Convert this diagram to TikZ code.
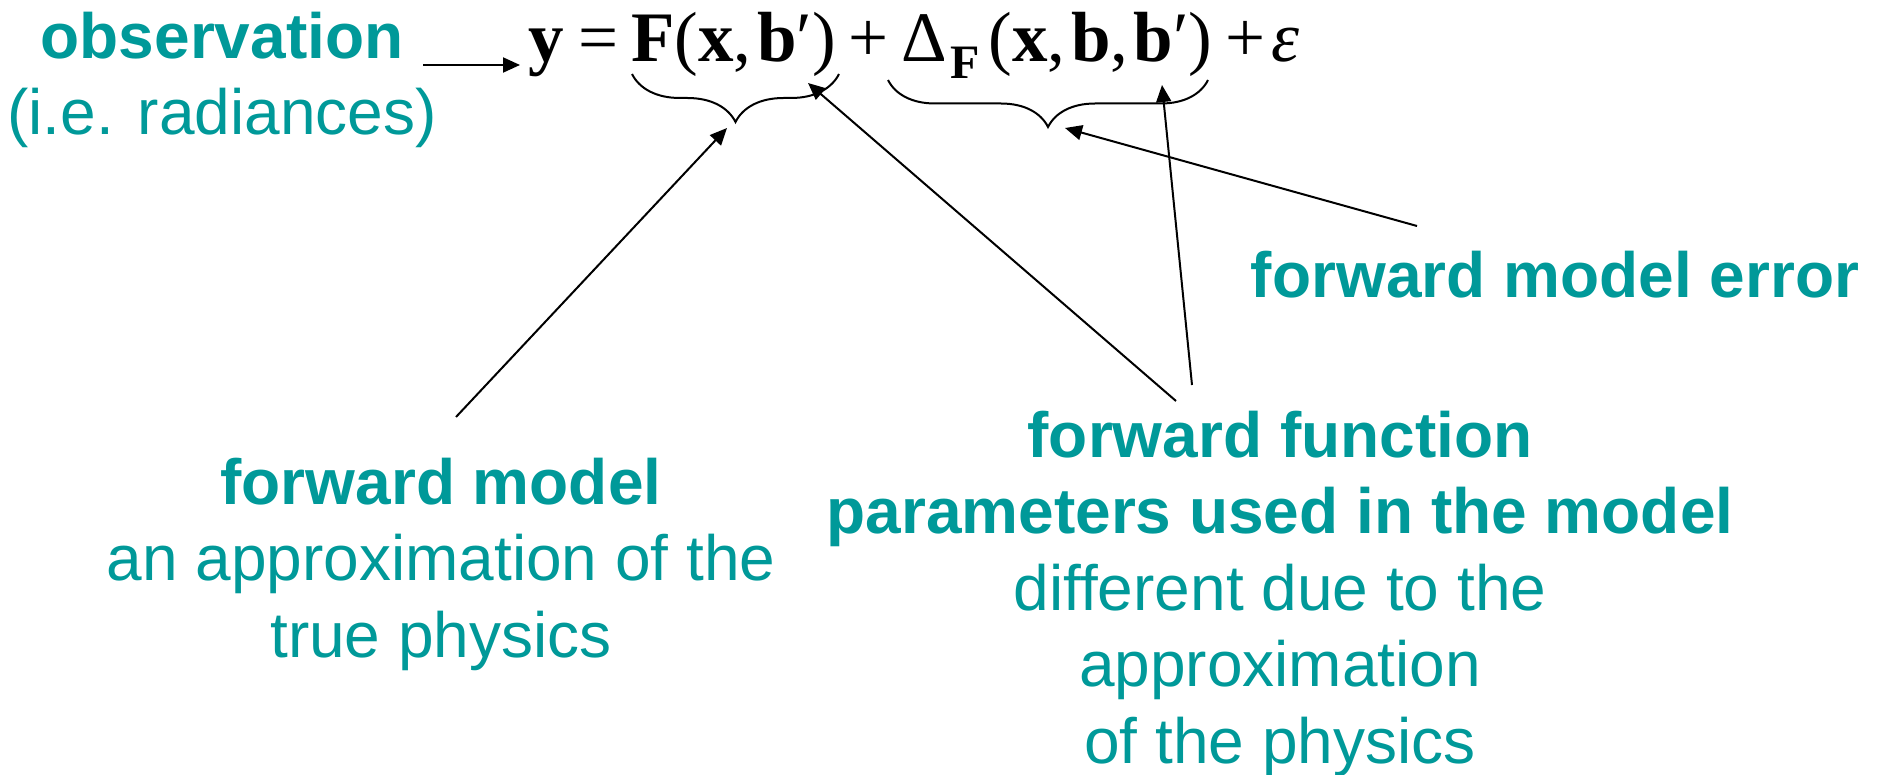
\documentclass[tikz,border=0pt]{standalone}
\usepackage{fontspec}
\setmainfont{Liberation Sans}
\newfontfamily\eqfont{Liberation Serif}
\usetikzlibrary{arrows.meta,decorations.pathreplacing}

\begin{document}
\begin{tikzpicture}[x=0.5pt, y=-0.5pt,
    eqpart/.style={anchor=base west, inner sep=0pt, font=\eqfont\fontsize{35.5}{40}\selectfont},
    caption/.style={anchor=base, inner sep=0pt, align=center, text=labelColour, font=\fontsize{32}{38.25}\selectfont},
    pointer/.style={-{Triangle[length=8.5pt,width=7.5pt]}, line width=1pt},
    underbrace/.style={decorate, decoration={brace, mirror, amplitude=#1}, line width=1pt}]
    \definecolor{labelColour}{HTML}{009999}
    \useasboundingbox (0,0) rectangle (1883,775);

    % Equation
    \node[eqpart] (lhs) at (528,62) {\textbf{y}};
    \node[eqpart] (eqsign) at (578,62) {=};
    \node[eqpart] (Fterm) at (631,62) {\textbf{F}(\textbf{x},\kern0.08em\textbf{b}′)};
    \node[eqpart] (plusA) at (848,62) {+};
    \node[eqpart] (Dterm) at (901,62) {Δ\kern0.05em\raisebox{-8.5pt}{\fontsize{24}{24}\selectfont\bfseries F}\kern0.12em(\textbf{x},\kern0.08em\textbf{b},\kern0.08em\textbf{b}′)};
    \node[eqpart] (plusB) at (1225,62) {+};
    \node[eqpart] (eps) at (1271,62) {\textit{ε}};

    % Braces
    \coordinate (Fleft) at (632,74);
    \coordinate (Fright) at (839,74);
    \coordinate (Dleft) at (888,80);
    \coordinate (Dright) at (1208,80);
    \draw[underbrace=24pt] (Fleft) -- (Fright);
    \draw[underbrace=23.5pt] (Dleft) -- (Dright);

    % Labels (anchored at the base of the last line)
    \node[caption] (obs) at (222,135) {\textbf{observation}\\(i.e. radiances)};
    \node[caption] (fwdmodel) at (441,657) {\textbf{forward model}\\an approximation of the\\true physics};
    \node[caption] (fwdparams) at (1280,763) {\textbf{forward function}\\\textbf{parameters used in the model}\\different due to the\\approximation\\of the physics};
    \node[caption] (fwderror) at (1555,297) {\textbf{forward model error}};

    % Arrow ends
    \coordinate (obsfoot) at (423,65);
    \coordinate (lhsfoot) at (520,65);
    \coordinate (modelfoot) at (456,417);
    \coordinate (Ftip) at (727,128);
    \coordinate (paramfootA) at (1176,401);
    \coordinate (bprimeF) at (808,83);
    \coordinate (paramfootB) at (1192,385);
    \coordinate (bprimeD) at (1162,85);
    \coordinate (errorfoot) at (1417,226);
    \coordinate (Dtip) at (1065,128);

    % Arrows
    \draw[pointer] (obsfoot) -- (lhsfoot);
    \draw[pointer] (modelfoot) -- (Ftip);
    \draw[pointer] (paramfootA) -- (bprimeF);
    \draw[pointer] (paramfootB) -- (bprimeD);
    \draw[pointer] (errorfoot) -- (Dtip);

\end{tikzpicture}
\end{document}
